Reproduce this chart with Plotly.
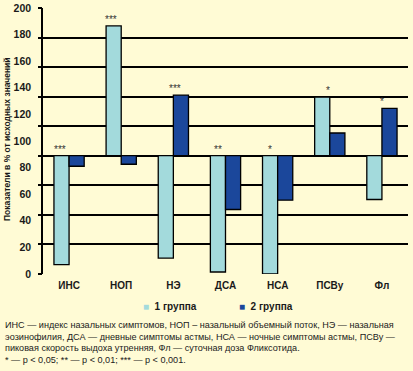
import plotly.graph_objects as go

categories = ["ИНС", "НОП", "НЭ", "ДСА", "НСА", "ПСВу", "Фл"]
group1 = [7, 186.5, 12, 1.5, 0, 133, 56]
group2 = [81, 82.5, 134.5, 48.5, 55.5, 106, 124.5]
baseline = 89
stars = ["***", "***", "***", "**", "*", "*", "*"]
ytick_vals = [0, 20, 40, 60, 80, 100, 120, 140, 160, 180, 200]
series_names = ["1 группа", "2 группа"]
footnote = [
    "ИНС — индекс назальных симптомов, НОП – назальный объемный поток, НЭ — назальная",
    "эозинофилия, ДСА — дневные симптомы астмы, НСА — ночные симптомы астмы, ПСВу —",
    "пиковая скорость выдоха утренняя, Фл — суточная доза Фликсотида.",
    "* — p < 0,05; ** — p < 0,01; *** — p < 0,001.",
]
ytitle = "Показатели в % от исходных значений"

# styles
W, H = 413, 371
L, R, T, B = 43, 5, 8, 97
BG = "#FFFBD5"
C1 = "#A3DADC"
C2 = "#1B479B"
BOLD = "Liberation Sans, Arial, sans-serif"
REG = "Liberation Sans, Arial, sans-serif"
star_xshift = [-9, -10, 2, -8, -8, -2, 0]

pw, ph = W - L - R, H - T - B


def px_x(px):
    return (px - L) / pw


def px_y(py):
    return (H - B - py) / ph


fig = go.Figure()
for name, vals, col in [(series_names[0], group1, C1), (series_names[1], group2, C2)]:
    fig.add_trace(go.Bar(
        x=categories, y=[v - baseline for v in vals], base=baseline, name=name,
        marker=dict(color=col, line=dict(color="black", width=1.3)),
        showlegend=False, yaxis="y",
    ))

# invisible trace to activate grid axis
fig.add_trace(go.Scatter(x=[categories[0]], y=[0], yaxis="y2", mode="markers",
                         marker=dict(opacity=0), showlegend=False, hoverinfo="skip"))

annotations = []
for i, c in enumerate(categories):
    top = max(baseline, group1[i], group2[i])
    annotations.append(dict(x=c, y=top, xref="x", yref="y", text=stars[i], showarrow=False,
                            yanchor="bottom", xanchor="center", xshift=star_xshift[i], yshift=-1,
                            font=dict(family=REG, size=10, color="#333333")))

# y title
annotations.append(dict(x=px_x(7), y=px_y(139), xref="paper", yref="paper", text=ytitle,
                        textangle=-90, showarrow=False, xanchor="center", yanchor="middle",
                        font=dict(family=BOLD, size=8.5, color="#1a1a1a", weight="bold")))

# legend as text
annotations.append(dict(x=px_x(141), y=px_y(306), xref="paper", yref="paper",
                        text=f'<span style="color:{C1}">■</span>  <b>{series_names[0]}</b>',
                        showarrow=False, xanchor="left", yanchor="middle",
                        font=dict(family=BOLD, size=10, color="#1a1a1a")))
annotations.append(dict(x=px_x(237), y=px_y(306), xref="paper", yref="paper",
                        text=f'<span style="color:{C2}">■</span>  <b>{series_names[1]}</b>',
                        showarrow=False, xanchor="left", yanchor="middle",
                        font=dict(family=BOLD, size=10, color="#1a1a1a")))

for k, line in enumerate(footnote):
    annotations.append(dict(x=px_x(3), y=px_y(325 + 11.6 * k), xref="paper", yref="paper",
                            text=line, showarrow=False, xanchor="left", yanchor="middle",
                            font=dict(family=REG, size=9.1, color="#1a1a1a")))

fig.update_layout(
    width=W, height=H, margin=dict(l=L, r=R, t=T, b=B, autoexpand=False),
    paper_bgcolor=BG, plot_bgcolor=BG,
    barmode="group", bargap=0.42, bargroupgap=0,
    showlegend=False,
    xaxis=dict(type="category", showgrid=False, showline=False, ticks="", zeroline=False,
               automargin=False, ticklabelstandoff=4,
               tickfont=dict(family=BOLD, size=10, color="#1a1a1a", weight="bold")),
    yaxis=dict(range=[0, 200], tickvals=ytick_vals, showgrid=False, zeroline=False,
               showline=True, linecolor="black", linewidth=1.5, ticks="", automargin=False,
               ticklabelstandoff=8,
               tickfont=dict(family=BOLD, size=10.5, color="#1a1a1a", weight="bold")),
    yaxis2=dict(range=[0, 9], dtick=1, overlaying="y", side="left", showgrid=True,
                gridcolor="black", gridwidth=1.5, showticklabels=False, zeroline=False,
                automargin=False,
                ticks="outside", ticklen=4, tickcolor="black", tickwidth=1.5, layer="below traces"),
    annotations=annotations,
)

fig.write_html("out.html", config=dict(displayModeBar=False),
               post_script="document.body.style.margin='0';")
